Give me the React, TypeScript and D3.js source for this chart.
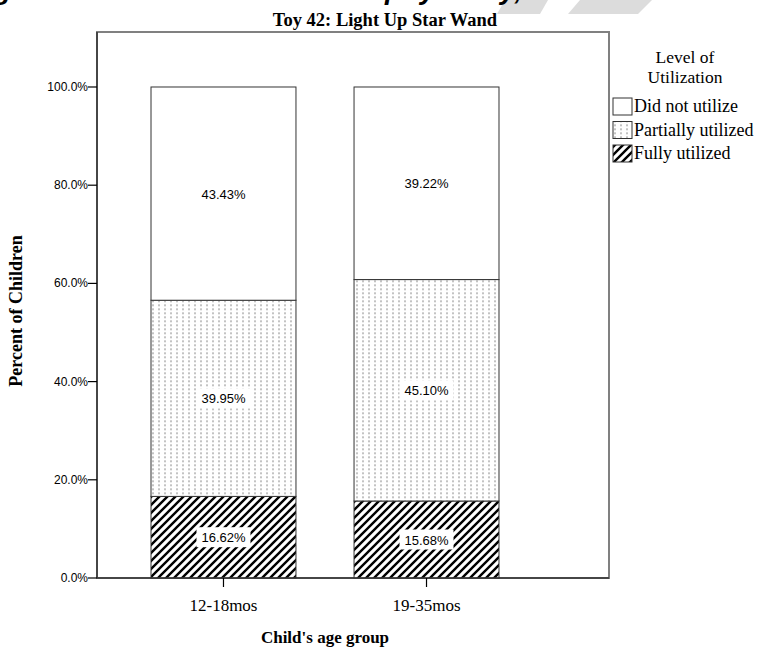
import React from "react";
import * as d3 from "d3";

const categories = ["12-18mos", "19-35mos"];
const seriesNames = ["Fully utilized", "Partially utilized", "Did not utilize"];
const fully = [16.62, 15.68];
const partially = [39.95, 45.1];
const notUtil = [43.43, 39.22];
const yTicks = [0, 20, 40, 60, 80, 100];
const legendOrder = ["Did not utilize", "Partially utilized", "Fully utilized"];

const W = 760, H = 650;
const frame = { left: 97, right: 609, top: 32, bottom: 578 };
const SERIF = "'Liberation Serif', 'Times New Roman', serif";
const SANS = "'Liberation Sans', Arial, sans-serif";

export default function App() {
  const x = d3.scaleBand<string>().domain(categories).range([97, 553]).paddingInner(0.286).paddingOuter(0.266);
  const y = d3.scaleLinear().domain([0, 111.2]).range([frame.bottom, frame.top]);
  const rows = categories.map((c, i) => ({ cat: c, [seriesNames[0]]: fully[i], [seriesNames[1]]: partially[i], [seriesNames[2]]: notUtil[i] }));
  const stacked = d3.stack<any>().keys(seriesNames)(rows as any);
  const fillFor = (k: string) => k === "Fully utilized" ? "url(#hatch)" : k === "Partially utilized" ? "url(#dots)" : "#fff";
  const lx = 613, ly0 = 98, lpitch = 23.5;
  const midX = (x(categories[0])! + x(categories[1])! + x.bandwidth()) / 2;
  return (
    <svg width={W} height={H} style={{ position: "absolute", left: 0, top: 0, display: "block" }}>
      <defs>
        <pattern id="hatch" patternUnits="userSpaceOnUse" width={8} height={8}>
          <rect width={8} height={8} fill="#fff" />
          <path d="M-2,2 l4,-4 M0,8 l8,-8 M6,10 l4,-4" stroke="#000" strokeWidth={2.4} />
        </pattern>
        <pattern id="dots" patternUnits="userSpaceOnUse" width={6} height={4}>
          <rect width={6} height={4} fill="#fff" />
          <line x1={3} y1={0.3} x2={3} y2={2.3} stroke="#888" strokeWidth={1} />
        </pattern>
      </defs>
      <rect width={W} height={H} fill="#fff" />
      {/* cut-off document heading and watermark */}
      <polygon points="505,0 548,0 540,14 497,14" fill="#dcdcdc" />
      <polygon points="580,0 652,0 638,14 568,14" fill="#dcdcdc" />
      <text x={-6} y={-1} fontFamily={SANS} fontWeight="bold" fontStyle="italic" fontSize={28} fill="#000">g</text>
      <text x={385} y={-1} fontFamily={SANS} fontWeight="bold" fontStyle="italic" fontSize={28} fill="#000">p</text>
      <text x={420} y={-1} fontFamily={SANS} fontWeight="bold" fontStyle="italic" fontSize={28} fill="#000">y</text>
      <text x={500} y={-1} fontFamily={SANS} fontWeight="bold" fontStyle="italic" fontSize={28} fill="#000">y,</text>
      {/* title */}
      <text x={385} y={26} textAnchor="middle" fontFamily={SERIF} fontWeight="bold" fontSize={18.5}>Toy 42: Light Up Star Wand</text>
      {/* frame */}
      <rect x={frame.left} y={frame.top} width={frame.right - frame.left} height={frame.bottom - frame.top} fill="none" stroke="#808080" strokeWidth={2} />
      {/* bars */}
      {stacked.map((s: any) => s.map((d: any, i: number) => {
        const x0 = x(categories[i])!;
        const y1 = y(d[1]), y0 = y(d[0]);
        return <rect key={s.key + i} x={x0} y={y1} width={x.bandwidth()} height={y0 - y1} fill={fillFor(s.key)} stroke="#333" strokeWidth={1} />;
      }))}
      {/* value labels */}
      {stacked.map((s: any) => s.map((d: any, i: number) => {
        const cx = x(categories[i])! + x.bandwidth() / 2;
        const cy = y((d[0] + d[1]) / 2);
        const label = (d[1] - d[0]).toFixed(2) + "%";
        return (
          <g key={"l" + s.key + i}>
            <rect x={cx - 27} y={cy - 10} width={54} height={20} fill="#fff" />
            <text x={cx} y={cy + 5} textAnchor="middle" fontFamily={SANS} fontSize={13}>{label}</text>
          </g>
        );
      }))}
      {/* y axis */}
      <line x1={frame.left} x2={frame.left} y1={frame.top} y2={frame.bottom} stroke="#333" strokeWidth={1.5} />
      {yTicks.map(t => (
        <g key={t}>
          <line x1={frame.left - 9} x2={frame.left} y1={y(t)} y2={y(t)} stroke="#000" strokeWidth={1.2} />
          <text x={frame.left - 9} y={y(t) + 4} textAnchor="end" fontFamily={SANS} fontSize={12}>{t.toFixed(1)}%</text>
        </g>
      ))}
      <text transform={`translate(22,311) rotate(-90)`} textAnchor="middle" fontFamily={SERIF} fontWeight="bold" fontSize={18}>Percent of Children</text>
      {/* x axis */}
      <line x1={frame.left} x2={frame.right} y1={frame.bottom} y2={frame.bottom} stroke="#333" strokeWidth={1.5} />
      {categories.map(c => {
        const cx = x(c)! + x.bandwidth() / 2;
        return (
          <g key={c}>
            <line x1={cx} x2={cx} y1={frame.bottom} y2={frame.bottom + 9} stroke="#000" strokeWidth={1.2} />
            <text x={cx} y={611} textAnchor="middle" fontFamily={SERIF} fontSize={17}>{c}</text>
          </g>
        );
      })}
      <text x={midX} y={643} textAnchor="middle" fontFamily={SERIF} fontWeight="bold" fontSize={17}>Child's age group</text>
      {/* legend */}
      <text x={685} y={63} textAnchor="middle" fontFamily={SERIF} fontSize={17.5}>Level of</text>
      <text x={685} y={83} textAnchor="middle" fontFamily={SERIF} fontSize={17.5}>Utilization</text>
      {legendOrder.map((k, i) => (
        <g key={k}>
          <rect x={lx} y={ly0 + i * lpitch} width={19} height={17} fill={fillFor(k)} stroke="#333" strokeWidth={1} />
          <text x={lx + 21} y={ly0 + i * lpitch + 14} fontFamily={SERIF} fontSize={18}>{k}</text>
        </g>
      ))}
    </svg>
  );
}
